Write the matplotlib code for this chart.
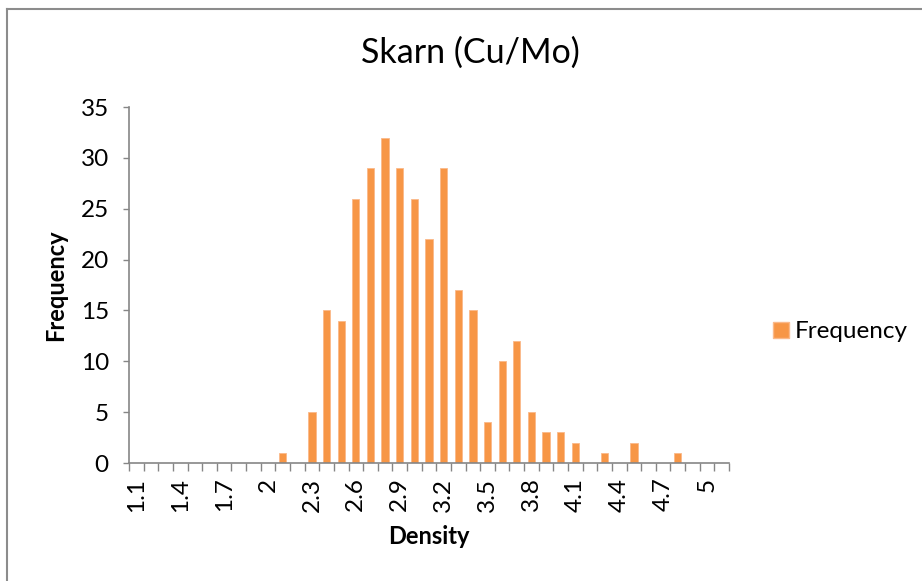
import matplotlib
matplotlib.use("Agg")
import matplotlib.pyplot as plt
from matplotlib.lines import Line2D
from matplotlib.patches import Patch

plt.rcParams['font.family'] = ['Lato', 'DejaVu Sans']

# histogram bins (Excel style, last bin "More")
bins = [round(1.1 + 0.1 * i, 1) for i in range(40)] + ["More"]
freq = [0, 0, 0, 0, 0, 0, 0, 0, 0, 0,   # 1.1 - 2.0
        1, 0, 5, 15, 14, 26, 29, 32, 29, 26,   # 2.1 - 3.0
        22, 29, 17, 15, 4, 10, 12, 5, 3, 3,   # 3.1 - 4.0
        2, 0, 1, 0, 2, 0, 0, 1, 0, 0,   # 4.1 - 5.0
        0]  # More

bar_color = '#F79646'
axis_gray = '#868686'
fs = 17.5

fig = plt.figure(figsize=(9.22, 5.81), dpi=100)
ax = fig.add_axes([129 / 922, 1 - 463 / 581, 600 / 922, 356 / 581])

x = list(range(len(bins)))
ax.bar(x, freq, width=0.5, color=bar_color, edgecolor='#FAB98A', linewidth=0.6, zorder=2)

ax.set_xlim(-0.5, len(bins) - 0.5)
ax.set_ylim(0, 35)
ax.set_yticks(range(0, 36, 5))

# category boundaries for tick marks, labels every 3rd bin
ax.set_xticks([i - 0.5 for i in range(len(bins) + 1)])
ax.set_xticklabels([])
ax.set_xticks(x[::3], minor=True)
ax.set_xticklabels([f"{b:g}" for b in bins[::3] if b != "More"], minor=True,
                   rotation=90, fontsize=fs)
ax.tick_params(axis='x', which='minor', length=0, pad=10.5)
ax.tick_params(axis='x', which='major', length=6, width=1, color=axis_gray, direction='out')
ax.tick_params(axis='y', length=4.5, width=1, color=axis_gray, labelsize=fs, pad=10)

for s in ['top', 'right']:
    ax.spines[s].set_visible(False)
for s in ['left', 'bottom']:
    ax.spines[s].set_color(axis_gray)
    ax.spines[s].set_linewidth(1.2)

ax.set_xlabel("Density", fontsize=17, fontweight='bold', labelpad=10)
ax.set_ylabel("Frequency", fontsize=17, fontweight='bold', labelpad=10)

fig.text(470 / 922, 1 - 53 / 581, "Skarn (Cu/Mo)", fontsize=24.5, ha='center', va='center')

handle = Patch(facecolor=bar_color, edgecolor='#FAB98A')
fig.legend([handle], ["Frequency"], loc='center left', bbox_to_anchor=(751 / 922, 1 - 332 / 581),
           frameon=False, fontsize=fs, handlelength=0.65, handleheight=0.65, handletextpad=0.25)

# outer chart border
fig.add_artist(Line2D([7 / 922, 7 / 922], [0, 1 - 8.5 / 581], color='#8C8C8C', linewidth=1.5,
                      transform=fig.transFigure))
fig.add_artist(Line2D([7 / 922, 1], [1 - 8.5 / 581, 1 - 8.5 / 581], color='#8C8C8C', linewidth=1.5,
                      transform=fig.transFigure))

fig.savefig("out.png", dpi=100)
